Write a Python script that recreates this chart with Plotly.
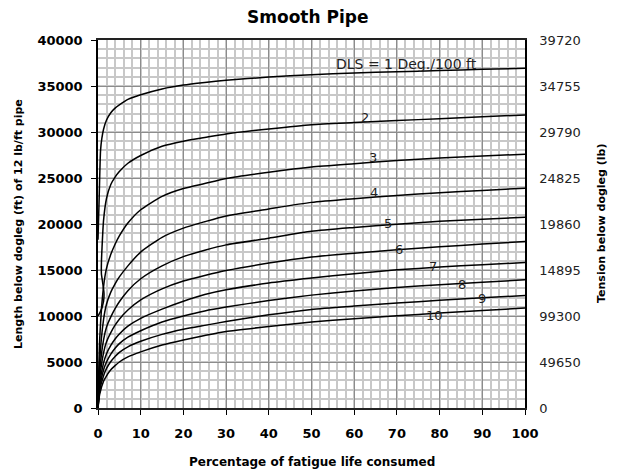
import plotly.graph_objects as go

# ---------------- data ----------------
X_TAIL = [2, 3, 4, 5, 7, 10, 15, 20, 25, 30, 40, 50, 60, 70, 80, 90, 100]

dls1_head_x = [0, 0.3, 0.6, 0.9, 1.3]
dls1_head_y = [18300, 23300, 28000, 29300, 30300]
dls1_tail_y = [31300, 32100, 32600, 32950, 33550, 34050, 34680, 35100, 35380, 35620,
               35970, 36230, 36420, 36540, 36680, 36810, 36920]

dls2_head_x = [0, 0.6, 1.3, 1.4, 1.1, 0.8, 0.8, 0.95, 1.3]
dls2_head_y = [10000, 10500, 11600, 12500, 13600, 14600, 15800, 17500, 20400]
dls2_tail_y = [22800, 24300, 25100, 25700, 26600, 27450, 28450, 29000, 29400, 29790,
               30330, 30800, 31030, 31240, 31450, 31660, 31850]

origin_head_x = [0, 0.4, 1.3]
dls3_head_y = [0, 7500, 13200]
dls3_tail_y = [15200, 16700, 17800, 18700, 20100, 21550, 23000, 23850, 24400, 24950,
               25630, 26200, 26560, 26890, 27180, 27400, 27580]
dls4_head_y = [0, 5200, 9600]
dls4_tail_y = [11300, 12600, 13500, 14250, 15450, 16950, 18550, 19550, 20250, 20880,
               21640, 22350, 22750, 23090, 23400, 23650, 23890]
dls5_head_y = [0, 4000, 7400]
dls5_tail_y = [8800, 9900, 10800, 11550, 12750, 14050, 15450, 16450, 17150, 17730,
               18460, 19200, 19620, 19980, 20300, 20520, 20740]
dls6_head_y = [0, 3200, 6000]
dls6_tail_y = [7200, 8200, 9000, 9650, 10650, 11750, 12950, 13800, 14400, 14940,
               15750, 16400, 16830, 17190, 17520, 17820, 18090]
dls7_head_y = [0, 2600, 4900]
dls7_tail_y = [5900, 6800, 7500, 8050, 8900, 9750, 10750, 11600, 12330, 12850,
               13580, 14120, 14600, 15020, 15320, 15580, 15810]
dls8_head_y = [0, 2200, 4150]
dls8_tail_y = [5000, 5850, 6500, 7000, 7700, 8400, 9350, 10000, 10550, 10970,
               11690, 12270, 12720, 13100, 13400, 13680, 13930]
dls9_head_y = [0, 1900, 3500]
dls9_tail_y = [4300, 5050, 5600, 6050, 6650, 7250, 8000, 8550, 8980, 9400,
               10130, 10720, 11080, 11400, 11700, 11980, 12230]
dls10_head_y = [0, 1500, 2900]
dls10_tail_y = [3500, 4150, 4600, 5000, 5550, 6100, 6850, 7400, 7880, 8320,
                8860, 9340, 9700, 10020, 10320, 10600, 10860]

curve_names = ["1", "2", "3", "4", "5", "6", "7", "8", "9", "10"]

label_texts = ["DLS = 1 Deg./100 ft", "2", "3", "4", "5", "6", "7", "8", "9", "10"]
label_x = [72.3, 62.5, 64.5, 64.6, 68.0, 70.5, 78.5, 85.3, 90.0, 78.7]
label_y = [37350, 31600, 27220, 23460, 20020, 17190, 15380, 13390, 11870, 10020]

x_tickvals = [0, 10, 20, 30, 40, 50, 60, 70, 80, 90, 100]
y_tickvals = [0, 5000, 10000, 15000, 20000, 25000, 30000, 35000, 40000]
right_ticktext = ["0", "49650", "99300", "14895", "19860", "24825", "29790", "34755", "39720"]

title_text = "Smooth Pipe"
x_title = "Percentage of fatigue life consumed"
y_title = "Length below dogleg (ft) of 12 lb/ft pipe"
y2_title = "Tension below dogleg (lb)"

# ---------------- assemble ----------------
curves = [
    (dls1_head_x, dls1_head_y, dls1_tail_y),
    (dls2_head_x, dls2_head_y, dls2_tail_y),
    (origin_head_x, dls3_head_y, dls3_tail_y),
    (origin_head_x, dls4_head_y, dls4_tail_y),
    (origin_head_x, dls5_head_y, dls5_tail_y),
    (origin_head_x, dls6_head_y, dls6_tail_y),
    (origin_head_x, dls7_head_y, dls7_tail_y),
    (origin_head_x, dls8_head_y, dls8_tail_y),
    (origin_head_x, dls9_head_y, dls9_tail_y),
    (origin_head_x, dls10_head_y, dls10_tail_y),
]

FONT = "DejaVu Sans, Arial, sans-serif"
PW, PH = 427, 368  # plot area size in px

fig = go.Figure()
for name, (hx, hy, ty) in zip(curve_names, curves):
    fig.add_trace(go.Scatter(
        x=list(hx) + X_TAIL, y=list(hy) + ty, mode="lines", name=name,
        line=dict(color="black", width=1.5, shape="spline", smoothing=0.6),
        showlegend=False, hoverinfo="skip",
    ))

# invisible trace for right axis
fig.add_trace(go.Scatter(x=[0, 100], y=[0, 40000], yaxis="y2", mode="lines",
                         line=dict(width=0), showlegend=False, hoverinfo="skip"))

for i, (t, lx, ly) in enumerate(zip(label_texts, label_x, label_y)):
    fig.add_annotation(x=lx, y=ly, text=t, showarrow=False,
                       font=dict(family=FONT, size=14 if i == 0 else 13, color="#222"),
                       xanchor="center", yanchor="middle")

fig.add_annotation(xref="paper", yref="paper", x=0.5 - 4 / PW, y=1 + 23 / PH, text="<b>%s</b>" % title_text,
                   showarrow=False, font=dict(family=FONT, size=17, color="black"),
                   xanchor="center", yanchor="middle")
fig.add_annotation(xref="paper", yref="paper", x=0.5, y=-54 / PH, text="<b>%s</b>" % x_title,
                   showarrow=False, font=dict(family=FONT, size=12, color="black"),
                   xanchor="center", yanchor="middle")
fig.add_annotation(xref="paper", yref="paper", x=-80 / PW, y=0.5, text="<b>%s</b>" % y_title,
                   showarrow=False, textangle=-90, font=dict(family=FONT, size=11, color="black"),
                   xanchor="center", yanchor="middle")
fig.add_annotation(xref="paper", yref="paper", x=1 + 76 / PW, y=0.5, text="<b>%s</b>" % y2_title,
                   showarrow=False, textangle=-90, font=dict(family=FONT, size=11, color="black"),
                   xanchor="center", yanchor="middle")

fig.update_layout(
    width=609, height=465,
    margin=dict(l=90, r=92, t=32, b=65),
    paper_bgcolor="white", plot_bgcolor="white",
    font=dict(family=FONT, color="black"),
    xaxis=dict(range=[0, 100], tickvals=x_tickvals, ticks="outside", ticklen=5, tickwidth=1,
               tickcolor="black", showline=True, linecolor="#222", linewidth=1.5, mirror=True,
               showgrid=True, gridcolor="#8c8c8c", gridwidth=1.2, zeroline=False,
               tickfont=dict(family=FONT, size=13, color="black", weight="bold"),
               ticklabelstandoff=8,
               minor=dict(dtick=2, showgrid=True, gridcolor="#c8c8c8", gridwidth=1.5, ticks="")),
    yaxis=dict(range=[0, 40000], tickvals=y_tickvals, tickformat="d", ticks="outside", ticklen=5,
               tickwidth=1, tickcolor="black", showline=True, linecolor="black", linewidth=1.5,
               showgrid=True, gridcolor="#8c8c8c", gridwidth=1.2, zeroline=False,
               tickfont=dict(family=FONT, size=13, color="black", weight="bold"),
               ticklabelstandoff=6,
               minor=dict(dtick=1000, showgrid=True, gridcolor="#c8c8c8", gridwidth=1.5, ticks="")),
    yaxis2=dict(range=[0, 40000], overlaying="y", side="right", tickvals=y_tickvals,
                ticktext=right_ticktext, ticks="", showline=True, linecolor="black", linewidth=1.5,
                showgrid=False, zeroline=False, ticklabelstandoff=10,
                tickfont=dict(family=FONT, size=13, color="#222")),
)

fig.write_html("out.html")
